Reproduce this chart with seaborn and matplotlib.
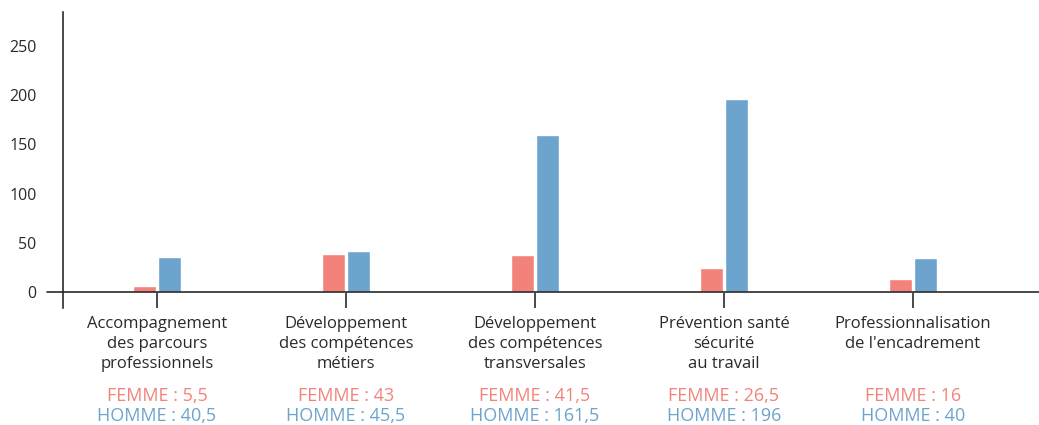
import matplotlib
matplotlib.use("Agg")
import matplotlib.pyplot as plt
import seaborn as sns
import pandas as pd

# data
categories = ["Accompagnement\ndes parcours\nprofessionnels",
              "Développement\ndes compétences\nmétiers",
              "Développement\ndes compétences\ntransversales",
              "Prévention santé\nsécurité\nau travail",
              "Professionnalisation\nde l'encadrement"]
femme_bars = [6.5, 39, 38, 24.5, 13.5]
homme_bars = [36, 42, 159.5, 196, 35]
femme_labels = ["5,5", "43", "41,5", "26,5", "16"]
homme_labels = ["40,5", "45,5", "161,5", "196", "40"]

FEMME_COL = "#F3827B"
HOMME_COL = "#6CA4CE"
TXT = "#2A2A2A"

df = pd.DataFrame({
    "cat": categories * 2,
    "sexe": ["Femme"] * 5 + ["Homme"] * 5,
    "val": femme_bars + homme_bars,
})

sns.set_style("white")
plt.rcParams["font.family"] = ["Open Sans", "DejaVu Sans"]

fig = plt.figure(figsize=(10.39, 4.25), dpi=100)
ax = fig.add_axes([63 / 1039, (425 - 308) / 425, 976 / 1039, 296 / 425])

sns.barplot(data=df, x="cat", y="val", hue="sexe",
            palette={"Femme": FEMME_COL, "Homme": HOMME_COL},
            width=0.265, gap=0.1, saturation=1, legend=False, ax=ax)

ax.set_xlim(-0.497, 4.667)
ax.set_ylim(-15.7, 284)
ax.set_xlabel("")
ax.set_ylabel("")

for s in ["top", "right"]:
    ax.spines[s].set_visible(False)
ax.spines["left"].set_color(TXT)
ax.spines["left"].set_linewidth(1.2)
ax.spines["bottom"].set_position(("data", 0))
ax.spines["bottom"].set_color(TXT)
ax.spines["bottom"].set_linewidth(1.2)
# the zero line runs a bit left of the y axis
ax.axhline(0, xmin=-0.0164, xmax=0, color=TXT, lw=1.2, clip_on=False)

ax.set_yticks([0, 50, 100, 150, 200, 250])
ax.tick_params(axis="y", direction="inout", length=12, width=1.2, color=TXT,
               labelsize=11.5, labelcolor=TXT, pad=13)
ax.tick_params(axis="x", direction="out", length=11.5, width=1.2, color=TXT,
               labelsize=12, labelcolor=TXT, pad=5.5, bottom=True)
for lab in ax.get_xticklabels():
    lab.set_linespacing(1.32)

trans = ax.get_xaxis_transform()
for i in range(len(categories)):
    ax.text(i, -0.297, "FEMME : " + femme_labels[i], transform=trans,
            ha="center", va="center", color=FEMME_COL, fontsize=13)
    ax.text(i, -0.365, "HOMME : " + homme_labels[i], transform=trans,
            ha="center", va="center", color=HOMME_COL, fontsize=13)

fig.savefig("out.png", dpi=100)
